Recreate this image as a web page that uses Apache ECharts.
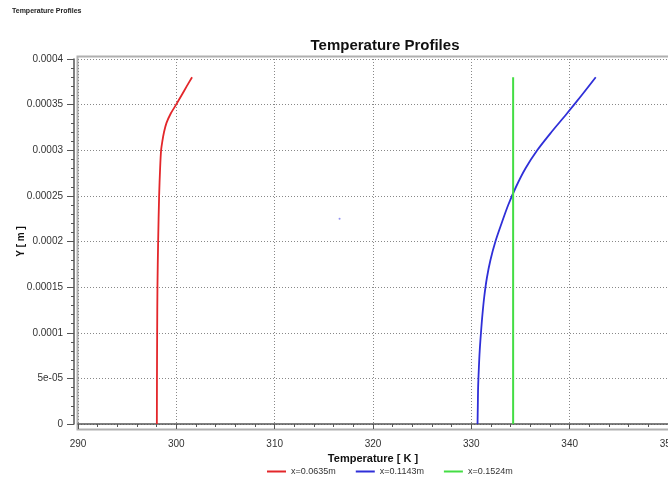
<!DOCTYPE html>
<html>
<head>
<meta charset="utf-8">
<script src="https://cdn.jsdelivr.net/npm/echarts@6/dist/echarts.min.js"></script>
<style>
  html, body { margin: 0; padding: 0; background: #fff; }
  #chart { width: 668px; height: 479px; }
</style>
</head>
<body>
<div id="chart"></div>
<script>
// profile heights (m) and temperatures (K)
const redY = [0, 0.00005, 0.0001, 0.00015, 0.0002, 0.00025, 0.00028, 0.0003, 0.00031, 0.00032, 0.00033, 0.00034, 0.00035, 0.00036, 0.00037, 0.00038];
const redT = [298.02, 298.03, 298.05, 298.08, 298.15, 298.25, 298.35, 298.45, 298.58, 298.75, 299.0, 299.42, 299.98, 300.52, 301.05, 301.6];

const blueY = [0, 0.00002, 0.00004, 0.00006, 0.00008, 0.0001, 0.00012, 0.00014, 0.00016, 0.00018, 0.0002,
  0.00022, 0.00024, 0.00026, 0.00028, 0.0003, 0.00032, 0.00034, 0.00036, 0.00038];
const blueT = [330.63, 330.66, 330.69, 330.76, 330.85, 330.98, 331.13, 331.32, 331.58, 331.95, 332.45,
  333.08, 333.75, 334.55, 335.5, 336.7, 338.15, 339.7, 341.2, 342.65];

const greenY = [0, 0.00038];
const greenT = [334.25, 334.25];

const strayPoint = [316.6, 0.000225];

const seriesNames = ['x=0.0635m', 'x=0.1143m', 'x=0.1524m'];
const yTickLabels = ['0', '5e-05', '0.0001', '0.00015', '0.0002', '0.00025', '0.0003', '0.00035', '0.0004'];

function pairs(ts, ys) {
  return ts.map((t, i) => [t, ys[i]]);
}

const font = 'Liberation Sans';
const chart = echarts.init(document.getElementById('chart'));

chart.setOption({
  animation: false,
  backgroundColor: '#fff',
  textStyle: { fontFamily: font },
  title: {
    text: 'Temperature Profiles',
    left: 380,
    top: 33,
    textAlign: 'center',
    textStyle: { fontFamily: font, fontSize: 15, fontWeight: 'bold', color: '#111' }
  },
  graphic: [
    {
      type: 'text', left: 12, top: 8,
      style: { text: 'Temperature Profiles', font: 'bold 7px "Liberation Sans"', fill: '#222' }
    },
    {
      type: 'rect', left: 75, top: 54, silent: true, z: 0,
      shape: { width: 600, height: 373 },
      style: { fill: 'none', stroke: '#b0b0b0', lineWidth: 2 }
    }
  ],
  legend: {
    data: seriesNames,
    bottom: -2,
    left: 262,
    icon: 'rect',
    itemWidth: 19,
    itemHeight: 2,
    itemGap: 20,
    textStyle: { fontFamily: font, fontSize: 9, color: '#333' }
  },
  grid: { left: 78, right: 0, top: 59, bottom: 55, outerBoundsMode: 'none' },
  xAxis: {
    type: 'value',
    min: 290,
    max: 350,
    interval: 10,
    offset: 8,
    name: 'Temperature [ K ]',
    nameLocation: 'middle',
    nameGap: 20,
    nameTextStyle: { fontFamily: font, fontSize: 11, fontWeight: 'bold', color: '#111' },
    axisLine: { show: true, lineStyle: { color: '#555', width: 1.5 } },
    axisTick: { show: true, length: 5, lineStyle: { color: '#555' } },
    minorTick: { show: true, splitNumber: 5, length: 3, lineStyle: { color: '#555' } },
    axisLabel: { fontSize: 10, color: '#333', margin: 7 },
    splitLine: { show: true, lineStyle: { color: '#888', type: [1, 2], width: 1 } }
  },
  yAxis: {
    type: 'value',
    min: 0,
    max: 0.0004,
    interval: 0.00005,
    offset: 4,
    name: 'Y [ m ]',
    nameLocation: 'middle',
    nameGap: 48,
    nameMoveOverlap: false,
    nameTextStyle: { fontFamily: font, fontSize: 10, fontWeight: 'bold', color: '#111' },
    axisLine: { show: true, lineStyle: { color: '#555', width: 1.5 } },
    axisTick: { show: true, length: 7, lineStyle: { color: '#555' } },
    minorTick: { show: true, splitNumber: 5, length: 3, lineStyle: { color: '#555' } },
    axisLabel: {
      fontSize: 10, color: '#333', margin: 11,
      formatter: (v, i) => yTickLabels[i]
    },
    splitLine: { show: true, lineStyle: { color: '#888', type: [1, 2], width: 1 } }
  },
  series: [
    {
      name: seriesNames[0], type: 'line', data: pairs(redT, redY),
      showSymbol: false, symbol: 'none', smooth: 0.3,
      color: '#e3262a', lineStyle: { width: 1.8 }
    },
    {
      name: seriesNames[1], type: 'line', data: pairs(blueT, blueY),
      showSymbol: false, symbol: 'none', smooth: 0.3,
      color: '#2f2fd8', lineStyle: { width: 1.8 }
    },
    {
      name: seriesNames[2], type: 'line', data: pairs(greenT, greenY),
      showSymbol: false, symbol: 'none',
      color: '#44dd44', lineStyle: { width: 2 }
    },
    {
      name: 'stray', type: 'scatter', data: [strayPoint],
      symbolSize: 2, color: '#7777ee', silent: true
    }
  ]
});
</script>
</body>
</html>
